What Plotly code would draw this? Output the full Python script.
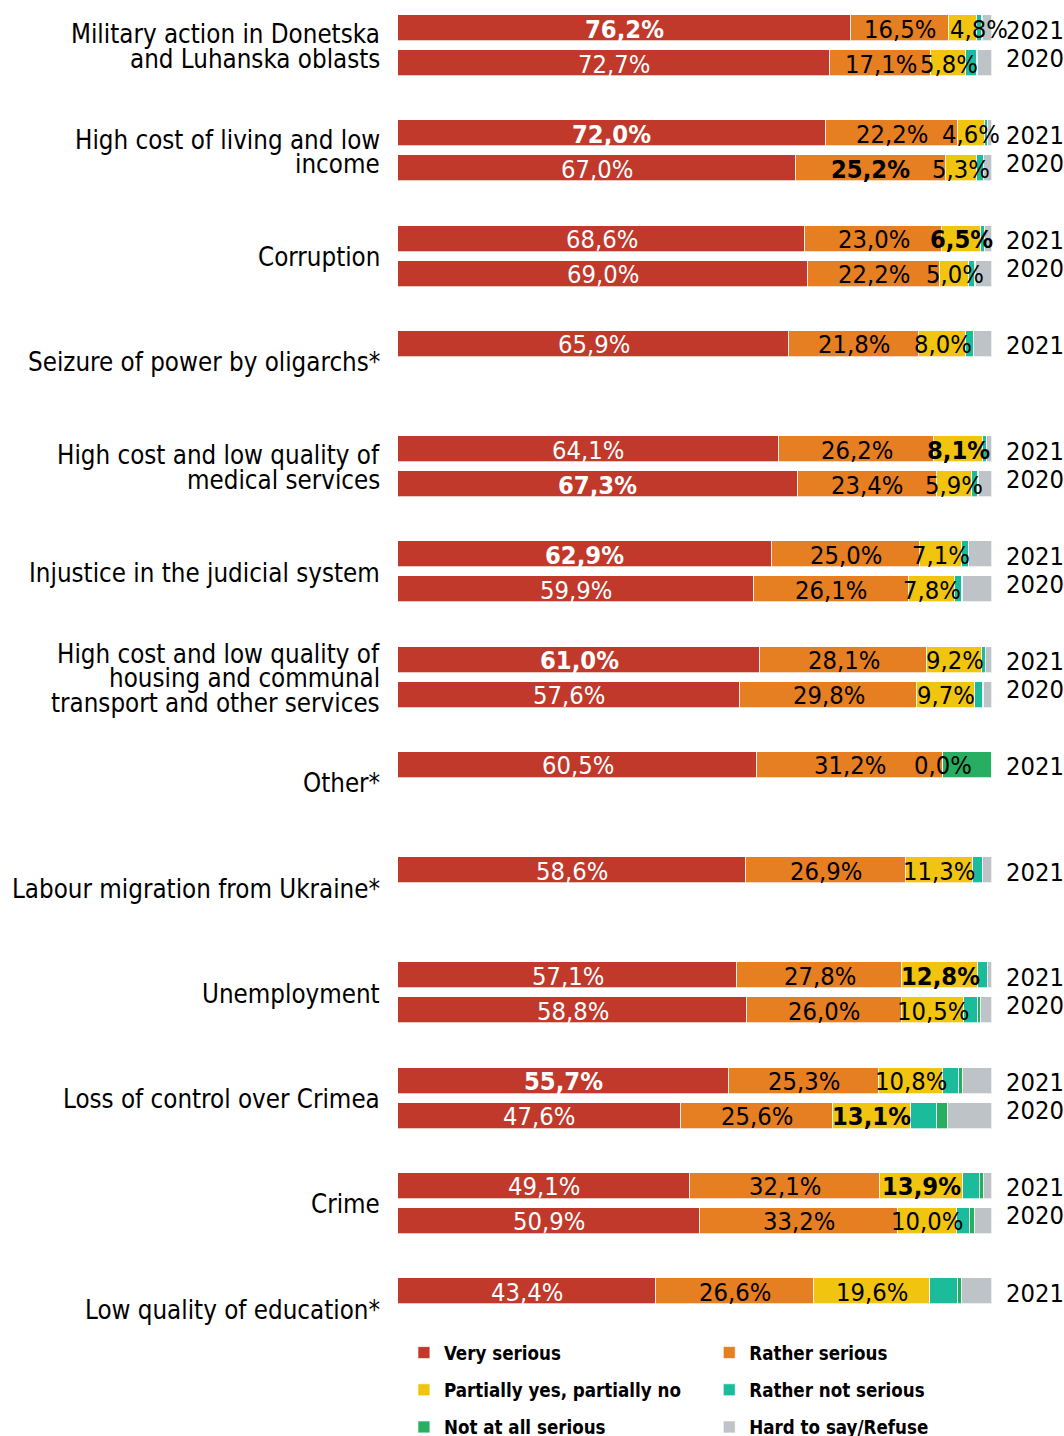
import plotly.graph_objects as go

# ---------------- data ----------------
categories = [
    "Military action in Donetska\nand Luhanska oblasts",
    "High cost of living and low\nincome",
    "Corruption",
    "Seizure of power by oligarchs*",
    "High cost and low quality of\nmedical services",
    "Injustice in the judicial system",
    "High cost and low quality of\nhousing and communal\ntransport and other services",
    "Other*",
    "Labour migration from Ukraine*",
    "Unemployment",
    "Loss of control over Crimea",
    "Crime",
    "Low quality of education*",
]
years = ["2021", "2020"]

very_2021 = [76.2, 72.0, 68.6, 65.9, 64.1, 62.9, 61.0, 60.5, 58.6, 57.1, 55.7, 49.1, 43.4]
rather_2021 = [16.5, 22.2, 23.0, 21.8, 26.2, 25.0, 28.1, 31.2, 26.9, 27.8, 25.3, 32.1, 26.6]
partial_2021 = [4.8, 4.6, 6.5, 8.0, 8.1, 7.1, 9.2, 0.0, 11.3, 12.8, 10.8, 13.9, 19.6]
rnot_2021 = [0.8, 0.6, 0.7, 1.3, 0.7, 1.1, 0.7, 0.0, 1.6, 1.7, 2.6, 2.9, 4.6]
notall_2021 = [0.2, 0.0, 0.0, 0.0, 0.0, 0.0, 0.0, 8.3, 0.1, 0.0, 0.7, 0.7, 0.7]
hard_2021 = [1.5, 0.6, 1.2, 3.0, 0.9, 3.9, 1.0, 0.0, 1.5, 0.6, 4.9, 1.3, 5.1]

very_2020 = [72.7, 67.0, 69.0, None, 67.3, 59.9, 57.6, None, None, 58.8, 47.6, 50.9, None]
rather_2020 = [17.1, 25.2, 22.2, None, 23.4, 26.1, 29.8, None, None, 26.0, 25.6, 33.2, None]
partial_2020 = [5.8, 5.3, 5.0, None, 5.9, 7.8, 9.7, None, None, 10.5, 13.1, 10.0, None]
rnot_2020 = [1.9, 1.1, 0.9, None, 1.1, 1.2, 1.3, None, None, 2.4, 4.5, 2.2, None]
notall_2020 = [0.1, 0.0, 0.2, None, 0.1, 0.1, 0.2, None, None, 0.5, 1.8, 0.8, None]
hard_2020 = [2.4, 1.4, 2.7, None, 2.2, 4.9, 1.4, None, None, 1.8, 7.4, 2.9, None]

series_names = ["Very serious", "Rather serious", "Partially yes, partially no",
                "Rather not serious", "Not at all serious", "Hard to say/Refuse"]
values_2021 = [very_2021, rather_2021, partial_2021, rnot_2021, notall_2021, hard_2021]
values_2020 = [very_2020, rather_2020, partial_2020, rnot_2020, notall_2020, hard_2020]

# labelled values shown in bold: (year, category index, series index)
bold_cells = [("2021", 0, 0), ("2021", 1, 0), ("2020", 1, 1), ("2021", 2, 2),
              ("2021", 4, 2), ("2020", 4, 0), ("2021", 5, 0), ("2021", 6, 0),
              ("2021", 9, 2), ("2021", 10, 0), ("2020", 10, 2), ("2021", 11, 2)]

# ---------------- styling ----------------
colors = ["#C0392B", "#E67E22", "#F1C40F", "#1ABC9C", "#27AE60", "#BDC3C7"]
legend_of = ["legend", "legend2", "legend", "legend2", "legend", "legend2"]
text_colors = ["white", "black", "black"]
label_nudge = {("2021", 0, 2): 16}   # label moved right in the original layout
FONT = "DejaVu Sans Condensed, DejaVu Sans"
FS_CAT = 25.7
FS_VAL = 25.3
FS_YEAR = 25.3
FS_LEG = 18.6

H = 1436
GROUP_TOP = 28.0
GROUP_STEP = 105.25
ROW_STEP = 35.0
BAR_W = 26.0
LINE_STEP = 24.5


def row_y(i, k):
    return GROUP_TOP + i * GROUP_STEP + k * ROW_STEP


def fmt(v):
    return f"{v:.1f}".replace(".", ",") + "%"


# collect bars: (year, cat idx, y position, list of 6 values)
rows = []
for i in range(len(categories)):
    rows.append(("2021", i, row_y(i, 0), [s[i] for s in values_2021]))
    if values_2020[0][i] is not None:
        rows.append(("2020", i, row_y(i, 1), [s[i] for s in values_2020]))

fig = go.Figure()

for s, name in enumerate(series_names):
    fig.add_trace(go.Bar(
        x=[r[3][s] for r in rows],
        y=[r[2] for r in rows],
        orientation="h",
        width=BAR_W,
        name=name,
        legend=legend_of[s],
        legendgroup=name,
        marker=dict(color=colors[s], line=dict(width=1, color="rgba(255,255,255,0.7)")),
        hoverinfo="skip",
    ))

# value labels for the first three series (annotations sit above all bars)
for s in range(3):
    for (yr, i, yv, vals) in rows:
        base = sum(vals[:s])
        t = fmt(vals[s])
        if (yr, i, s) in bold_cells:
            t = "<b>" + t + "</b>"
        fig.add_annotation(
            x=base + vals[s] / 2, y=yv, xref="x", yref="y",
            xanchor="center", yanchor="middle", yshift=-1,
            xshift=label_nudge.get((yr, i, s), 0),
            text=t, showarrow=False,
            font=dict(family=FONT, size=FS_VAL, color=text_colors[s]),
        )

# year labels on the right
for (yr, i, yv, vals) in rows:
    fig.add_annotation(
        xref="paper", x=1, xanchor="left", xshift=12,
        yref="y", y=yv, yanchor="middle", yshift=-2 if yr == "2021" else 5,
        text=yr, showarrow=False,
        font=dict(family=FONT, size=FS_YEAR, color="black"),
    )

# category labels (one annotation per line, tight line spacing)
for i, cat in enumerate(categories):
    lines = cat.split("\n")
    n = len(lines)
    yc = row_y(i, 0) + ROW_STEP / 2
    for j, ln in enumerate(lines):
        fig.add_annotation(
            xref="paper", x=0, xanchor="right", xshift=-16,
            yref="y", y=yc, yanchor="middle",
            yshift=((n - 1) / 2 - j) * LINE_STEP - 1,
            text=ln, showarrow=False,
            font=dict(family=FONT, size=FS_CAT, color="black"),
        )

leg_common = dict(
    y=(H - 1334) / H, xanchor="left", yanchor="top", orientation="v",
    tracegroupgap=10, bgcolor="rgba(0,0,0,0)",
    font=dict(family=FONT, size=FS_LEG, color="black", weight="bold"),
)

fig.update_layout(
    width=1064, height=H,
    margin=dict(l=398, r=72, t=0, b=0, autoexpand=False),
    paper_bgcolor="white", plot_bgcolor="white",
    barmode="stack",
    bargap=0,
    font=dict(family=FONT, size=FS_CAT, color="black"),
    xaxis=dict(range=[0, 100], visible=False, fixedrange=True),
    yaxis=dict(range=[H, 0], visible=False, fixedrange=True),
    legend=dict(x=0.01, **leg_common),
    legend2=dict(x=0.524, **leg_common),
    showlegend=True,
)

fig.write_html("out.html")
